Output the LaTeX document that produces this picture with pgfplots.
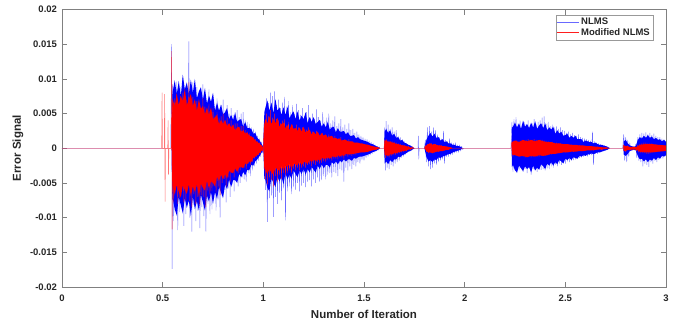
\documentclass[border=0pt]{standalone}
\usepackage{fontspec}
\setmainfont{Liberation Sans}
\usepackage{pgfplots}
\pgfplotsset{compat=1.18}
\definecolor{nlms}{RGB}{0,0,255}
\definecolor{nlmsline}{RGB}{105,105,255}
\definecolor{mnlms}{RGB}{255,0,0}
\definecolor{mnlmsline}{RGB}{255,30,30}
\definecolor{txt}{RGB}{38,38,38}
\begin{document}
\begin{tikzpicture}
\path[use as bounding box] (-62pt,-37pt) rectangle (616pt,287pt);
\begin{axis}[
  scale only axis, width=604pt, height=277.5pt,
  xmin=0, xmax=3, ymin=-0.02, ymax=0.02,
  scaled x ticks=false, scaled y ticks=false,
  xtick={0,0.5,1,1.5,2,2.5,3},
  xticklabels={0,0.5,1,1.5,2,2.5,3},
  ytick={-0.02,-0.015,-0.01,-0.005,0,0.005,0.01,0.015,0.02},
  yticklabels={-0.02,-0.015,-0.01,-0.005,0,0.005,0.01,0.015,0.02},
  tick align=inside, major tick length=5pt,
  axis line style={black!50, line width=0.5pt},
  every tick/.style={black!50, line width=0.5pt},
  ticklabel style={font=\bfseries\fontsize{9.5}{11}\selectfont, text=txt},
  xticklabel style={yshift=-4pt},
  yticklabel style={xshift=-1.5pt},
  xlabel={Number of Iteration},
  ylabel={Error Signal},
  label style={font=\bfseries\fontsize{11.5}{13}\selectfont, text=txt},
  xlabel style={at={(axis description cs:0.5,-0.0991)}, anchor=center},
  ylabel style={at={(axis description cs:-0.0728,0.5)}, anchor=center},
  legend style={at={(rel axis cs:0.9785,0.980)}, anchor=north east,
    font=\bfseries\fontsize{9.5}{11}\selectfont, text=txt, draw=black!40,
    inner sep=1pt, row sep=-2pt, cells={anchor=west}},
  legend image code/.code={\draw[#1, line width=0.4pt] (0pt,0pt) -- (22pt,0pt);},
  clip=true,
]
% ================= NLMS: error samples =================
\addplot[nlmsline, line width=0.4pt, line join=bevel] coordinates {
(0,0) (0.54,0)
(0.545,0.0150) (0.547,-0.0174) (0.550,0.0092) (0.555,-0.0105) (0.560,0.0085) (0.565,-0.0080)
(0.570,0.0096) (0.575,-0.0118) (0.580,0.0070) (0.585,-0.0092) (0.590,0.0088) (0.595,-0.0060)
(0.600,0.0102) (0.605,-0.0112) (0.610,0.0078) (0.615,-0.0095) (0.620,0.0090) (0.625,-0.0070)
(0.630,0.0154) (0.635,-0.0100) (0.640,0.0086) (0.645,-0.0120) (0.650,0.0095) (0.655,-0.0082)
(0.660,0.0072) (0.665,-0.0105) (0.670,0.0088) (0.675,-0.0090) (0.680,0.0080) (0.685,-0.0115)
(0.690,0.0065) (0.695,-0.0085) (0.700,0.0092) (0.705,-0.0098) (0.710,0.0075) (0.715,-0.0120)
(0.720,0.0070) (0.725,-0.0080) (0.730,0.0085) (0.735,-0.0095) (0.740,0.0068) (0.745,-0.0088)
(0.750,0.0078) (0.755,-0.0072) (0.760,0.0060) (0.765,-0.0090) (0.770,0.0072) (0.775,-0.0075)
(0.780,0.0058) (0.785,-0.0100) (0.790,0.0062) (0.795,-0.0068) (0.800,0.0070) (0.805,-0.0060)
(0.810,0.0055) (0.815,-0.0078) (0.820,0.0062) (0.825,-0.0058) (0.830,0.0050) (0.835,-0.0070)
(0.840,0.0058) (0.845,-0.0052) (0.850,0.0048) (0.855,-0.0062) (0.860,0.0052) (0.865,-0.0048)
(0.870,0.0055) (0.875,-0.0055) (0.880,0.0045) (0.885,-0.0050) (0.890,0.0050) (0.895,-0.0042)
(0.900,0.0052) (0.905,-0.0045) (0.910,0.0040) (0.915,-0.0048) (0.920,0.0038) (0.925,-0.0036)
(0.930,0.0035) (0.935,-0.0040) (0.940,0.0030) (0.945,-0.0032) (0.950,0.0028) (0.955,-0.0026)
(0.960,0.0024) (0.965,-0.0022) (0.970,0.0018) (0.975,-0.0018) (0.980,0.0014) (0.985,-0.0012)
(0.990,0.0009) (0.995,-0.0007) (1.000,0.0003)
(1.005,0.0045) (1.010,-0.0060) (1.015,0.0072) (1.020,-0.0106) (1.025,0.0065) (1.030,-0.0072)
(1.035,0.0080) (1.040,-0.0068) (1.045,0.0075) (1.050,-0.0099) (1.055,0.0082) (1.060,-0.0070)
(1.065,0.0062) (1.070,-0.0080) (1.075,0.0070) (1.080,-0.0064) (1.085,0.0058) (1.090,-0.0075)
(1.095,0.0066) (1.100,-0.0058) (1.105,0.0074) (1.110,-0.0104) (1.115,0.0060) (1.120,-0.0062)
(1.125,0.0068) (1.130,-0.0055) (1.135,0.0052) (1.140,-0.0066) (1.145,0.0062) (1.150,-0.0056)
(1.155,0.0050) (1.160,-0.0060) (1.165,0.0064) (1.170,-0.0050) (1.175,0.0055) (1.180,-0.0062)
(1.185,0.0048) (1.190,-0.0054) (1.195,0.0058) (1.200,-0.0050) (1.205,0.0046) (1.210,-0.0056)
(1.215,0.0052) (1.220,-0.0048) (1.225,0.0062) (1.230,-0.0046) (1.235,0.0044) (1.240,-0.0055)
(1.245,0.0050) (1.250,-0.0045) (1.255,0.0042) (1.260,-0.0050) (1.265,0.0056) (1.270,-0.0042)
(1.275,0.0045) (1.280,-0.0048) (1.285,0.0040) (1.290,-0.0046) (1.295,0.0052) (1.300,-0.0040)
(1.305,0.0038) (1.310,-0.0045) (1.315,0.0044) (1.320,-0.0038) (1.325,0.0050) (1.330,-0.0036)
(1.335,0.0036) (1.340,-0.0042) (1.345,0.0040) (1.350,-0.0034) (1.355,0.0046) (1.360,-0.0036)
(1.365,0.0032) (1.370,-0.0040) (1.375,0.0036) (1.380,-0.0030) (1.385,0.0042) (1.390,-0.0032)
(1.395,0.0030) (1.400,-0.0048) (1.405,0.0034) (1.410,-0.0028) (1.415,0.0028) (1.420,-0.0032)
(1.425,0.0036) (1.430,-0.0026) (1.435,0.0026) (1.440,-0.0030) (1.445,0.0028) (1.450,-0.0024)
(1.455,0.0022) (1.460,-0.0026) (1.465,0.0024) (1.470,-0.0020) (1.475,0.0020) (1.480,-0.0022)
(1.485,0.0018) (1.490,-0.0017) (1.495,0.0016) (1.500,-0.0018) (1.505,0.0014) (1.510,-0.0014)
(1.515,0.0013) (1.520,-0.0012) (1.525,0.0011) (1.530,-0.0010) (1.535,0.0009) (1.540,-0.0008)
(1.545,0.0007) (1.550,-0.0006) (1.555,0.0005) (1.560,-0.0004) (1.565,0.0003) (1.570,-0.0003)
(1.575,0.0002) (1.580,0) (1.600,0)
(1.603,0.0030) (1.606,-0.0032) (1.610,0.0039) (1.615,-0.0028) (1.620,0.0034) (1.625,-0.0030)
(1.630,0.0028) (1.635,-0.0024) (1.640,0.0030) (1.645,-0.0026) (1.650,0.0024) (1.655,-0.0022)
(1.660,0.0026) (1.665,-0.0020) (1.670,0.0018) (1.675,-0.0018) (1.680,0.0016) (1.685,-0.0014)
(1.690,0.0013) (1.695,-0.0012) (1.700,0.0010) (1.705,-0.0009) (1.710,0.0007) (1.715,-0.0006)
(1.720,0.0005) (1.725,-0.0004) (1.730,0.0003) (1.735,-0.0003) (1.740,0.0002) (1.745,-0.0001)
(1.750,0) (1.768,0) (1.770,0.0018) (1.772,-0.0016) (1.774,0) (1.800,0)
(1.805,0.0012) (1.810,-0.0020) (1.815,0.0030) (1.820,-0.0026) (1.825,0.0032) (1.830,-0.0030)
(1.835,0.0024) (1.840,-0.0028) (1.845,0.0030) (1.850,-0.0022) (1.855,0.0026) (1.860,-0.0024)
(1.865,0.0020) (1.870,-0.0020) (1.875,0.0016) (1.880,-0.0018) (1.885,0.0014) (1.890,-0.0016)
(1.895,0.0025) (1.900,-0.0022) (1.905,0.0012) (1.910,-0.0012) (1.915,0.0010) (1.920,-0.0012)
(1.925,0.0014) (1.930,-0.0010) (1.935,0.0008) (1.940,-0.0009) (1.945,0.0007) (1.950,-0.0007)
(1.955,0.0008) (1.960,-0.0006) (1.965,0.0005) (1.970,-0.0006) (1.975,0.0005) (1.980,-0.0004)
(1.985,0.0003) (1.990,-0.0002) (1.995,0) (2.230,0)
(2.235,0.0038) (2.240,-0.0034) (2.245,0.0042) (2.250,-0.0030) (2.255,0.0045) (2.260,-0.0036)
(2.265,0.0036) (2.270,-0.0032) (2.275,0.0040) (2.280,-0.0028) (2.285,0.0034) (2.290,-0.0034)
(2.295,0.0038) (2.300,-0.0030) (2.305,0.0035) (2.310,-0.0036) (2.315,0.0040) (2.320,-0.0029)
(2.325,0.0033) (2.330,-0.0038) (2.335,0.0036) (2.340,-0.0030) (2.345,0.0042) (2.350,-0.0032)
(2.355,0.0034) (2.360,-0.0034) (2.365,0.0038) (2.370,-0.0028) (2.375,0.0040) (2.380,-0.0031)
(2.385,0.0044) (2.390,-0.0030) (2.395,0.0046) (2.400,-0.0032) (2.405,0.0035) (2.410,-0.0029)
(2.415,0.0038) (2.420,-0.0030) (2.425,0.0032) (2.430,-0.0026) (2.435,0.0034) (2.440,-0.0028)
(2.445,0.0030) (2.450,-0.0024) (2.455,0.0032) (2.460,-0.0026) (2.465,0.0028) (2.470,-0.0022)
(2.475,0.0030) (2.480,-0.0024) (2.485,0.0026) (2.490,-0.0021) (2.495,0.0025) (2.500,-0.0022)
(2.505,0.0022) (2.510,-0.0019) (2.515,0.0024) (2.520,-0.0020) (2.525,0.0020) (2.530,-0.0018)
(2.535,0.0022) (2.540,-0.0017) (2.545,0.0019) (2.550,-0.0016) (2.555,0.0018) (2.560,-0.0015)
(2.565,0.0020) (2.570,-0.0014) (2.575,0.0016) (2.580,-0.0013) (2.585,0.0015) (2.590,-0.0012)
(2.595,0.0014) (2.600,-0.0011) (2.605,0.0013) (2.610,-0.0012) (2.615,0.0012) (2.620,-0.0010)
(2.625,0.0011) (2.630,-0.0010) (2.635,0.0024) (2.640,-0.0024) (2.645,0.0010) (2.650,-0.0008)
(2.655,0.0008) (2.660,-0.0008) (2.665,0.0007) (2.670,-0.0006) (2.675,0.0006) (2.680,-0.0005)
(2.685,0.0005) (2.690,-0.0004) (2.695,0.0004) (2.700,-0.0003) (2.705,0.0003) (2.710,-0.0002)
(2.715,0.0001) (2.720,0) (2.785,0)
(2.790,0.0020) (2.795,-0.0018) (2.800,0.0016) (2.805,-0.0020) (2.810,0.0012) (2.815,-0.0012)
(2.820,0.0008) (2.825,-0.0004) (2.830,0.0003) (2.835,-0.0003) (2.840,0.0003) (2.845,-0.0003)
(2.850,0.0006) (2.855,-0.0014) (2.860,0.0016) (2.865,-0.0018) (2.870,0.0020) (2.875,-0.0020)
(2.880,0.0022) (2.885,-0.0026) (2.890,0.0021) (2.895,-0.0022) (2.900,0.0023) (2.905,-0.0024)
(2.910,0.0020) (2.915,-0.0027) (2.920,0.0022) (2.925,-0.0020) (2.930,0.0019) (2.935,-0.0022)
(2.940,0.0021) (2.945,-0.0018) (2.950,0.0018) (2.955,-0.0020) (2.960,0.0016) (2.965,-0.0017)
(2.970,0.0016) (2.975,-0.0015) (2.980,0.0014) (2.985,-0.0015) (2.990,0.0013) (2.995,-0.0012)
(3.000,0.0010)
};
\addlegendentry{NLMS}
% ================= NLMS: dense body of each burst =================
\addplot[fill=nlms, draw=none, forget plot] coordinates {
(0.545,0) (0.548,0.0075)
(0.55,0.0082) (0.56,0.0098) (0.57,0.0078) (0.58,0.0097) (0.59,0.0075) (0.60,0.0106) (0.61,0.0085)
(0.62,0.0095) (0.63,0.0078) (0.64,0.0099) (0.65,0.0080) (0.66,0.0100) (0.67,0.0072) (0.68,0.0082)
(0.69,0.0088) (0.70,0.0070) (0.71,0.0087) (0.72,0.0064) (0.73,0.0076) (0.74,0.0067) (0.75,0.0080)
(0.76,0.0054) (0.77,0.0066) (0.78,0.0054) (0.79,0.0063) (0.80,0.0049) (0.81,0.0052) (0.82,0.0058)
(0.83,0.0042) (0.84,0.0048) (0.85,0.0041) (0.86,0.0051) (0.87,0.0038) (0.88,0.0041) (0.89,0.0042)
(0.90,0.0031) (0.91,0.0038) (0.92,0.0029) (0.93,0.0029) (0.94,0.0028) (0.95,0.0021) (0.96,0.0022)
(0.97,0.0015) (0.98,0.0012) (0.99,0.0007) (1.00,0.0002)
(1.00,-0.0002) (0.99,-0.0007) (0.98,-0.0012) (0.97,-0.0016) (0.96,-0.0019) (0.95,-0.0025)
(0.94,-0.0024) (0.93,-0.0032) (0.92,-0.0031) (0.91,-0.0039) (0.90,-0.0034) (0.89,-0.0042)
(0.88,-0.0037) (0.87,-0.0050) (0.86,-0.0046) (0.85,-0.0046) (0.84,-0.0056) (0.83,-0.0045)
(0.82,-0.0059) (0.81,-0.0052) (0.80,-0.0072) (0.79,-0.0064) (0.78,-0.0056) (0.77,-0.0073)
(0.76,-0.0063) (0.75,-0.0080) (0.74,-0.0063) (0.73,-0.0077) (0.72,-0.0068) (0.71,-0.0090)
(0.70,-0.0078) (0.69,-0.0067) (0.68,-0.0090) (0.67,-0.0076) (0.66,-0.0088) (0.65,-0.0070)
(0.64,-0.0098) (0.63,-0.0075) (0.62,-0.0086) (0.61,-0.0072) (0.60,-0.0094) (0.59,-0.0082)
(0.58,-0.0070) (0.57,-0.0097) (0.56,-0.0088) (0.55,-0.0072) (0.548,-0.0075) (0.545,0)
};
\addplot[fill=nlms, draw=none, forget plot] coordinates {
(1.0,0) (1.005,0.0052)
(1.01,0.0058) (1.02,0.0069) (1.03,0.0054) (1.04,0.0066) (1.05,0.0051) (1.06,0.0071) (1.07,0.0054)
(1.08,0.0059) (1.09,0.0048) (1.10,0.0059) (1.11,0.0048) (1.12,0.0060) (1.13,0.0043) (1.14,0.0049)
(1.15,0.0053) (1.16,0.0042) (1.17,0.0053) (1.18,0.0040) (1.19,0.0047) (1.20,0.0042) (1.21,0.0052)
(1.22,0.0036) (1.23,0.0045) (1.24,0.0038) (1.25,0.0045) (1.26,0.0035) (1.27,0.0038) (1.28,0.0041)
(1.29,0.0031) (1.30,0.0036) (1.31,0.0030) (1.32,0.0038) (1.33,0.0027) (1.34,0.0030) (1.35,0.0031)
(1.36,0.0023) (1.37,0.0029) (1.38,0.0024) (1.39,0.0024) (1.40,0.0025) (1.41,0.0020) (1.42,0.0023)
(1.43,0.0018) (1.44,0.0018) (1.45,0.0019) (1.46,0.0014) (1.47,0.0016) (1.48,0.0013) (1.49,0.0012)
(1.50,0.0011) (1.51,0.0010) (1.52,0.0009) (1.53,0.0007) (1.54,0.0006) (1.55,0.0005) (1.56,0.0003)
(1.57,0.0002) (1.58,0)
(1.57,-0.0002) (1.56,-0.0004) (1.55,-0.0005) (1.54,-0.0006) (1.53,-0.0008) (1.52,-0.0009)
(1.51,-0.0010) (1.50,-0.0011) (1.49,-0.0012) (1.48,-0.0012) (1.47,-0.0013) (1.46,-0.0015)
(1.45,-0.0014) (1.44,-0.0018) (1.43,-0.0016) (1.42,-0.0016) (1.41,-0.0019) (1.40,-0.0016)
(1.39,-0.0020) (1.38,-0.0018) (1.37,-0.0023) (1.36,-0.0019) (1.35,-0.0023) (1.34,-0.0020)
(1.33,-0.0028) (1.32,-0.0024) (1.31,-0.0024) (1.30,-0.0029) (1.29,-0.0023) (1.28,-0.0030)
(1.27,-0.0025) (1.26,-0.0035) (1.25,-0.0031) (1.24,-0.0027) (1.23,-0.0035) (1.22,-0.0030)
(1.21,-0.0038) (1.20,-0.0030) (1.19,-0.0037) (1.18,-0.0032) (1.17,-0.0042) (1.16,-0.0037)
(1.15,-0.0032) (1.14,-0.0044) (1.13,-0.0038) (1.12,-0.0045) (1.11,-0.0036) (1.10,-0.0052)
(1.09,-0.0041) (1.08,-0.0048) (1.07,-0.0041) (1.06,-0.0056) (1.05,-0.0050) (1.04,-0.0043)
(1.03,-0.0062) (1.02,-0.0057) (1.01,-0.0045) (1.005,-0.0044) (1.0,0)
};
\addplot[fill=nlms, draw=none, forget plot] coordinates {
(1.60,0) (1.603,0.0024) (1.61,0.0028) (1.62,0.0022) (1.63,0.0026) (1.64,0.0018) (1.65,0.0021)
(1.66,0.0015) (1.67,0.0016) (1.68,0.0011) (1.69,0.0012) (1.70,0.0008) (1.71,0.0007) (1.72,0.0005)
(1.73,0.0004) (1.74,0.0002) (1.75,0)
(1.74,-0.0002) (1.73,-0.0004) (1.72,-0.0005) (1.71,-0.0007) (1.70,-0.0009) (1.69,-0.0010)
(1.68,-0.0013) (1.67,-0.0012) (1.66,-0.0016) (1.65,-0.0016) (1.64,-0.0020) (1.63,-0.0017)
(1.62,-0.0023) (1.61,-0.0019) (1.603,-0.0022) (1.60,0)
};
\addplot[fill=nlms, draw=none, forget plot] coordinates {
(1.80,0) (1.81,0.0012) (1.82,0.0018) (1.83,0.0022) (1.84,0.0017) (1.85,0.0021) (1.86,0.0015)
(1.87,0.0016) (1.88,0.0011) (1.89,0.0013) (1.90,0.0009) (1.91,0.0010) (1.92,0.0007) (1.93,0.0007)
(1.94,0.0005) (1.95,0.0005) (1.96,0.0003) (1.97,0.0003) (1.98,0.0002) (1.99,0)
(1.98,-0.0002) (1.97,-0.0003) (1.96,-0.0004) (1.95,-0.0005) (1.94,-0.0006) (1.93,-0.0008)
(1.92,-0.0008) (1.91,-0.0010) (1.90,-0.0011) (1.89,-0.0012) (1.88,-0.0014) (1.87,-0.0013)
(1.86,-0.0017) (1.85,-0.0016) (1.84,-0.0020) (1.83,-0.0017) (1.82,-0.0019) (1.81,-0.0012) (1.80,0)
};
\addplot[fill=nlms, draw=none, forget plot] coordinates {
(2.233,0) (2.235,0.0030)
(2.24,0.0031) (2.25,0.0037) (2.26,0.0030) (2.27,0.0036) (2.28,0.0028) (2.29,0.0040) (2.30,0.0031)
(2.31,0.0035) (2.32,0.0029) (2.33,0.0037) (2.34,0.0030) (2.35,0.0039) (2.36,0.0028) (2.37,0.0033)
(2.38,0.0036) (2.39,0.0029) (2.40,0.0036) (2.41,0.0026) (2.42,0.0030) (2.43,0.0027) (2.44,0.0031)
(2.45,0.0021) (2.46,0.0026) (2.47,0.0021) (2.48,0.0024) (2.49,0.0018) (2.50,0.0019) (2.51,0.0021)
(2.52,0.0015) (2.53,0.0018) (2.54,0.0015) (2.55,0.0018) (2.56,0.0013) (2.57,0.0013) (2.58,0.0013)
(2.59,0.0009) (2.60,0.0011) (2.61,0.0010) (2.62,0.0009) (2.63,0.0009) (2.64,0.0007) (2.65,0.0008)
(2.66,0.0006) (2.67,0.0005) (2.68,0.0005) (2.69,0.0004) (2.70,0.0003) (2.71,0.0002) (2.72,0)
(2.71,-0.0002) (2.70,-0.0003) (2.69,-0.0004) (2.68,-0.0005) (2.67,-0.0006) (2.66,-0.0006)
(2.65,-0.0007) (2.64,-0.0009) (2.63,-0.0007) (2.62,-0.0009) (2.61,-0.0009) (2.60,-0.0011)
(2.59,-0.0010) (2.58,-0.0012) (2.57,-0.0011) (2.56,-0.0015) (2.55,-0.0014) (2.54,-0.0013)
(2.53,-0.0017) (2.52,-0.0014) (2.51,-0.0017) (2.50,-0.0015) (2.49,-0.0022) (2.48,-0.0019)
(2.47,-0.0017) (2.46,-0.0023) (2.45,-0.0020) (2.44,-0.0025) (2.43,-0.0020) (2.42,-0.0025)
(2.41,-0.0022) (2.40,-0.0030) (2.39,-0.0026) (2.38,-0.0023) (2.37,-0.0031) (2.36,-0.0028)
(2.35,-0.0032) (2.34,-0.0025) (2.33,-0.0035) (2.32,-0.0027) (2.31,-0.0030) (2.30,-0.0026)
(2.29,-0.0033) (2.28,-0.0029) (2.27,-0.0025) (2.26,-0.0035) (2.25,-0.0032) (2.24,-0.0024)
(2.235,-0.0027) (2.233,0)
};
\addplot[fill=nlms, draw=none, forget plot] coordinates {
(2.788,0) (2.79,0.0010) (2.80,0.0012) (2.81,0.0007) (2.82,0.0004) (2.83,0.0003) (2.84,0.0002)
(2.85,0.0003) (2.86,0.0012) (2.87,0.0016) (2.88,0.0014) (2.89,0.0018) (2.90,0.0015) (2.91,0.0019)
(2.92,0.0015) (2.93,0.0017) (2.94,0.0013) (2.95,0.0015) (2.96,0.0012) (2.97,0.0013) (2.98,0.0010)
(2.99,0.0012) (3.00,0.0009)
(3.00,-0.0010) (2.99,-0.0012) (2.98,-0.0011) (2.97,-0.0015) (2.96,-0.0013) (2.95,-0.0017)
(2.94,-0.0014) (2.93,-0.0018) (2.92,-0.0016) (2.91,-0.0020) (2.90,-0.0016) (2.89,-0.0019)
(2.88,-0.0015) (2.87,-0.0016) (2.86,-0.0011) (2.85,-0.0003) (2.84,-0.0002) (2.83,-0.0003)
(2.82,-0.0004) (2.81,-0.0008) (2.80,-0.0011) (2.79,-0.0009) (2.788,0)
};
% ================= Modified NLMS: error samples =================
\addplot[mnlmsline, line width=0.4pt, line join=bevel] coordinates {
(0,0) (0.543,0)
(0.545,0.0140) (0.547,-0.0117) (0.550,0.0070) (0.555,-0.0078) (0.560,0.0072) (0.565,-0.0060)
(0.570,0.0078) (0.575,-0.0080) (0.580,0.0058) (0.585,-0.0072) (0.590,0.0075) (0.595,-0.0050)
(0.600,0.0080) (0.605,-0.0078) (0.610,0.0062) (0.615,-0.0075) (0.620,0.0070) (0.625,-0.0058)
(0.630,0.0095) (0.635,-0.0076) (0.640,0.0072) (0.645,-0.0085) (0.650,0.0074) (0.655,-0.0066)
(0.660,0.0060) (0.665,-0.0080) (0.670,0.0068) (0.675,-0.0070) (0.680,0.0066) (0.685,-0.0082)
(0.690,0.0055) (0.695,-0.0068) (0.700,0.0072) (0.705,-0.0070) (0.710,0.0060) (0.715,-0.0085)
(0.720,0.0056) (0.725,-0.0062) (0.730,0.0064) (0.735,-0.0070) (0.740,0.0055) (0.745,-0.0062)
(0.750,0.0058) (0.755,-0.0055) (0.760,0.0048) (0.765,-0.0064) (0.770,0.0052) (0.775,-0.0056)
(0.780,0.0044) (0.785,-0.0068) (0.790,0.0046) (0.795,-0.0050) (0.800,0.0050) (0.805,-0.0044)
(0.810,0.0040) (0.815,-0.0055) (0.820,0.0044) (0.825,-0.0042) (0.830,0.0036) (0.835,-0.0048)
(0.840,0.0040) (0.845,-0.0036) (0.850,0.0034) (0.855,-0.0042) (0.860,0.0036) (0.865,-0.0032)
(0.870,0.0036) (0.875,-0.0036) (0.880,0.0030) (0.885,-0.0032) (0.890,0.0032) (0.895,-0.0028)
(0.900,0.0032) (0.905,-0.0028) (0.910,0.0026) (0.915,-0.0030) (0.920,0.0024) (0.925,-0.0022)
(0.930,0.0022) (0.935,-0.0024) (0.940,0.0018) (0.945,-0.0020) (0.950,0.0016) (0.955,-0.0015)
(0.960,0.0013) (0.965,-0.0012) (0.970,0.0010) (0.975,-0.0010) (0.980,0.0008) (0.985,-0.0007)
(0.990,0.0005) (0.995,-0.0004) (1.000,0.0002)
(1.005,0.0035) (1.010,-0.0045) (1.015,0.0050) (1.020,-0.0052) (1.025,0.0046) (1.030,-0.0042)
(1.035,0.0055) (1.040,-0.0046) (1.045,0.0044) (1.050,-0.0055) (1.055,0.0050) (1.060,-0.0040)
(1.065,0.0042) (1.070,-0.0048) (1.075,0.0040) (1.080,-0.0038) (1.085,0.0036) (1.090,-0.0044)
(1.095,0.0040) (1.100,-0.0036) (1.105,0.0042) (1.110,-0.0040) (1.115,0.0034) (1.120,-0.0036)
(1.125,0.0038) (1.130,-0.0032) (1.135,0.0030) (1.140,-0.0036) (1.145,0.0034) (1.150,-0.0030)
(1.155,0.0028) (1.160,-0.0032) (1.165,0.0034) (1.170,-0.0028) (1.175,0.0030) (1.180,-0.0032)
(1.185,0.0026) (1.190,-0.0028) (1.195,0.0030) (1.200,-0.0026) (1.205,0.0025) (1.210,-0.0028)
(1.215,0.0027) (1.220,-0.0024) (1.225,0.0030) (1.230,-0.0023) (1.235,0.0022) (1.240,-0.0026)
(1.245,0.0024) (1.250,-0.0022) (1.255,0.0021) (1.260,-0.0024) (1.265,0.0025) (1.270,-0.0020)
(1.275,0.0021) (1.280,-0.0022) (1.285,0.0019) (1.290,-0.0021) (1.295,0.0022) (1.300,-0.0019)
(1.305,0.0018) (1.310,-0.0020) (1.315,0.0019) (1.320,-0.0017) (1.325,0.0020) (1.330,-0.0016)
(1.335,0.0016) (1.340,-0.0018) (1.345,0.0017) (1.350,-0.0015) (1.355,0.0018) (1.360,-0.0015)
(1.365,0.0014) (1.370,-0.0016) (1.375,0.0015) (1.380,-0.0013) (1.385,0.0016) (1.390,-0.0013)
(1.395,0.0012) (1.400,-0.0015) (1.405,0.0013) (1.410,-0.0011) (1.415,0.0011) (1.420,-0.0012)
(1.425,0.0013) (1.430,-0.0010) (1.435,0.0010) (1.440,-0.0011) (1.445,0.0010) (1.450,-0.0009)
(1.455,0.0008) (1.460,-0.0009) (1.465,0.0008) (1.470,-0.0007) (1.475,0.0007) (1.480,-0.0007)
(1.485,0.0006) (1.490,-0.0006) (1.495,0.0005) (1.500,-0.0005) (1.510,0.0004) (1.520,-0.0004)
(1.530,0.0003) (1.540,-0.0003) (1.550,0.0002) (1.560,-0.0002) (1.570,0.0001) (1.580,0) (1.600,0)
(1.603,0.0012) (1.606,-0.0014) (1.610,0.0013) (1.615,-0.0012) (1.620,0.0011) (1.625,-0.0013)
(1.630,0.0010) (1.635,-0.0011) (1.640,0.0010) (1.645,-0.0009) (1.650,0.0009) (1.655,-0.0010)
(1.660,0.0008) (1.665,-0.0008) (1.670,0.0007) (1.675,-0.0007) (1.680,0.0006) (1.685,-0.0006)
(1.690,0.0005) (1.695,-0.0005) (1.700,0.0004) (1.710,-0.0004) (1.720,0.0003) (1.730,-0.0002)
(1.740,0.0002) (1.750,0) (1.800,0)
(1.805,0.0004) (1.810,-0.0005) (1.815,0.0006) (1.820,-0.0007) (1.825,0.0007) (1.830,-0.0006)
(1.835,0.0007) (1.840,-0.0007) (1.845,0.0006) (1.850,-0.0006) (1.855,0.0006) (1.860,-0.0005)
(1.865,0.0005) (1.870,-0.0005) (1.875,0.0004) (1.880,-0.0004) (1.885,0.0004) (1.890,-0.0004)
(1.895,0.0003) (1.900,-0.0003) (1.910,0.0002) (1.920,-0.0002) (1.930,0.0001) (1.940,0) (2.230,0)
(2.235,0.0010) (2.240,-0.0012) (2.245,0.0011) (2.250,-0.0010) (2.255,0.0012) (2.260,-0.0011)
(2.265,0.0010) (2.270,-0.0012) (2.275,0.0011) (2.280,-0.0010) (2.285,0.0012) (2.290,-0.0012)
(2.295,0.0011) (2.300,-0.0013) (2.305,0.0012) (2.310,-0.0012) (2.315,0.0013) (2.320,-0.0011)
(2.325,0.0012) (2.330,-0.0013) (2.335,0.0012) (2.340,-0.0012) (2.345,0.0013) (2.350,-0.0011)
(2.355,0.0012) (2.360,-0.0012) (2.365,0.0011) (2.370,-0.0012) (2.375,0.0012) (2.380,-0.0011)
(2.385,0.0012) (2.390,-0.0010) (2.395,0.0011) (2.400,-0.0011) (2.405,0.0010) (2.410,-0.0010)
(2.415,0.0010) (2.420,-0.0009) (2.425,0.0009) (2.430,-0.0009) (2.435,0.0009) (2.440,-0.0008)
(2.445,0.0008) (2.450,-0.0008) (2.455,0.0008) (2.460,-0.0007) (2.465,0.0007) (2.470,-0.0007)
(2.475,0.0007) (2.480,-0.0006) (2.490,0.0006) (2.500,-0.0006) (2.510,0.0005) (2.520,-0.0005)
(2.530,0.0005) (2.540,-0.0005) (2.550,0.0004) (2.560,-0.0004) (2.570,0.0004) (2.580,-0.0004)
(2.590,0.0003) (2.600,-0.0003) (2.620,0.0003) (2.640,-0.0003) (2.660,0.0002) (2.680,-0.0002)
(2.700,0.0001) (2.720,0) (2.785,0)
(2.790,0.0005) (2.800,-0.0005) (2.810,0.0004) (2.820,-0.0003) (2.830,0.0001) (2.850,0)
(2.855,-0.0004) (2.860,0.0005) (2.865,-0.0006) (2.870,0.0006) (2.875,-0.0007) (2.880,0.0007)
(2.885,-0.0007) (2.890,0.0008) (2.895,-0.0007) (2.900,0.0008) (2.905,-0.0008) (2.910,0.0007)
(2.915,-0.0008) (2.920,0.0007) (2.925,-0.0007) (2.930,0.0007) (2.935,-0.0006) (2.940,0.0006)
(2.945,-0.0006) (2.950,0.0006) (2.955,-0.0005) (2.960,0.0005) (2.965,-0.0005) (2.970,0.0005)
(2.975,-0.0004) (2.980,0.0004) (2.985,-0.0004) (2.990,0.0004) (2.995,-0.0003) (3.000,0.0003)
};
\addlegendentry{Modified NLMS}
% ================= Modified NLMS: dense body of each burst =================
\addplot[fill=mnlms, draw=none, forget plot] coordinates {
(0.545,0) (0.548,0.0060)
(0.55,0.0070) (0.56,0.0061) (0.57,0.0079) (0.58,0.0062) (0.59,0.0075) (0.60,0.0068) (0.61,0.0086)
(0.62,0.0062) (0.63,0.0071) (0.64,0.0078) (0.65,0.0061) (0.66,0.0071) (0.67,0.0054) (0.68,0.0071)
(0.69,0.0057) (0.70,0.0061) (0.71,0.0049) (0.72,0.0059) (0.73,0.0048) (0.74,0.0059) (0.75,0.0042)
(0.76,0.0045) (0.77,0.0048) (0.78,0.0035) (0.79,0.0041) (0.80,0.0035) (0.81,0.0041) (0.82,0.0032)
(0.83,0.0036) (0.84,0.0030) (0.85,0.0034) (0.86,0.0026) (0.87,0.0030) (0.88,0.0031) (0.89,0.0023)
(0.90,0.0026) (0.91,0.0021) (0.92,0.0023) (0.93,0.0018) (0.94,0.0017) (0.95,0.0015) (0.96,0.0011)
(0.97,0.0009) (0.98,0.0007) (0.99,0.0004) (1.00,0.0001)
(1.00,-0.0001) (0.99,-0.0004) (0.98,-0.0007) (0.97,-0.0010) (0.96,-0.0012) (0.95,-0.0014)
(0.94,-0.0020) (0.93,-0.0019) (0.92,-0.0023) (0.91,-0.0022) (0.90,-0.0029) (0.89,-0.0027)
(0.88,-0.0028) (0.87,-0.0034) (0.86,-0.0029) (0.85,-0.0036) (0.84,-0.0035) (0.83,-0.0032)
(0.82,-0.0044) (0.81,-0.0037) (0.80,-0.0045) (0.79,-0.0038) (0.78,-0.0047) (0.77,-0.0041)
(0.76,-0.0055) (0.75,-0.0050) (0.74,-0.0048) (0.73,-0.0058) (0.72,-0.0047) (0.71,-0.0061)
(0.70,-0.0057) (0.69,-0.0051) (0.68,-0.0070) (0.67,-0.0052) (0.66,-0.0063) (0.65,-0.0055)
(0.64,-0.0069) (0.63,-0.0052) (0.62,-0.0066) (0.61,-0.0060) (0.60,-0.0054) (0.59,-0.0071)
(0.58,-0.0063) (0.57,-0.0053) (0.56,-0.0067) (0.55,-0.0055) (0.548,-0.0055) (0.545,0)
};
\addplot[fill=mnlms, draw=none, forget plot] coordinates {
(1.0,0) (1.005,0.0035)
(1.01,0.0042) (1.02,0.0036) (1.03,0.0046) (1.04,0.0035) (1.05,0.0042) (1.06,0.0036) (1.07,0.0044)
(1.08,0.0031) (1.09,0.0035) (1.10,0.0037) (1.11,0.0029) (1.12,0.0033) (1.13,0.0026) (1.14,0.0035)
(1.15,0.0028) (1.16,0.0029) (1.17,0.0025) (1.18,0.0030) (1.19,0.0024) (1.20,0.0031) (1.21,0.0023)
(1.22,0.0025) (1.23,0.0027) (1.24,0.0020) (1.25,0.0024) (1.26,0.0020) (1.27,0.0024) (1.28,0.0018)
(1.29,0.0022) (1.30,0.0018) (1.31,0.0020) (1.32,0.0015) (1.33,0.0017) (1.34,0.0018) (1.35,0.0014)
(1.36,0.0015) (1.37,0.0013) (1.38,0.0014) (1.39,0.0011) (1.40,0.0012) (1.41,0.0012) (1.42,0.0010)
(1.43,0.0010) (1.44,0.0010) (1.45,0.0008) (1.46,0.0008) (1.47,0.0008) (1.48,0.0007) (1.49,0.0007)
(1.50,0.0006) (1.52,0.0005) (1.54,0.0003) (1.56,0.0002) (1.58,0)
(1.56,-0.0002) (1.54,-0.0003) (1.52,-0.0005) (1.50,-0.0006) (1.49,-0.0006) (1.48,-0.0006)
(1.47,-0.0007) (1.46,-0.0007) (1.45,-0.0008) (1.44,-0.0008) (1.43,-0.0009) (1.42,-0.0009)
(1.41,-0.0008) (1.40,-0.0011) (1.39,-0.0010) (1.38,-0.0012) (1.37,-0.0010) (1.36,-0.0013)
(1.35,-0.0012) (1.34,-0.0012) (1.33,-0.0015) (1.32,-0.0013) (1.31,-0.0015) (1.30,-0.0015)
(1.29,-0.0014) (1.28,-0.0018) (1.27,-0.0016) (1.26,-0.0019) (1.25,-0.0016) (1.24,-0.0020)
(1.23,-0.0017) (1.22,-0.0023) (1.21,-0.0020) (1.20,-0.0020) (1.19,-0.0025) (1.18,-0.0019)
(1.17,-0.0025) (1.16,-0.0023) (1.15,-0.0022) (1.14,-0.0030) (1.13,-0.0022) (1.12,-0.0027)
(1.11,-0.0025) (1.10,-0.0032) (1.09,-0.0025) (1.08,-0.0033) (1.07,-0.0030) (1.06,-0.0028)
(1.05,-0.0038) (1.04,-0.0035) (1.03,-0.0030) (1.02,-0.0038) (1.01,-0.0031) (1.005,-0.0030) (1.0,0)
};
\addplot[fill=mnlms, draw=none, forget plot] coordinates {
(1.60,0) (1.603,0.0010) (1.61,0.0012) (1.62,0.0009) (1.63,0.0010) (1.64,0.0008) (1.65,0.0008)
(1.66,0.0006) (1.67,0.0006) (1.68,0.0005) (1.69,0.0004) (1.70,0.0004) (1.72,0.0002) (1.75,0)
(1.72,-0.0002) (1.70,-0.0004) (1.69,-0.0004) (1.68,-0.0005) (1.67,-0.0006) (1.66,-0.0007)
(1.65,-0.0007) (1.64,-0.0009) (1.63,-0.0009) (1.62,-0.0011) (1.61,-0.0010) (1.603,-0.0010) (1.60,0)
};
\addplot[fill=mnlms, draw=none, forget plot] coordinates {
(1.80,0) (1.81,0.0004) (1.82,0.0006) (1.83,0.0007) (1.84,0.0005) (1.85,0.0006) (1.86,0.0005)
(1.87,0.0004) (1.88,0.0004) (1.89,0.0003) (1.90,0.0003) (1.92,0.0002) (1.94,0)
(1.92,-0.0002) (1.90,-0.0003) (1.89,-0.0004) (1.88,-0.0004) (1.87,-0.0005) (1.86,-0.0005)
(1.85,-0.0006) (1.84,-0.0007) (1.83,-0.0006) (1.82,-0.0006) (1.81,-0.0004) (1.80,0)
};
\addplot[fill=mnlms, draw=none, forget plot] coordinates {
(2.233,0) (2.235,0.0009) (2.25,0.0011) (2.27,0.0009) (2.29,0.0012) (2.31,0.0010) (2.33,0.0012)
(2.35,0.0010) (2.37,0.0012) (2.39,0.0010) (2.41,0.0009) (2.43,0.0009) (2.45,0.0007) (2.47,0.0007)
(2.49,0.0006) (2.51,0.0006) (2.53,0.0005) (2.55,0.0005) (2.57,0.0004) (2.59,0.0004) (2.61,0.0003)
(2.63,0.0003) (2.66,0.0002) (2.70,0.0001) (2.72,0)
(2.70,-0.0001) (2.66,-0.0002) (2.63,-0.0003) (2.61,-0.0003) (2.59,-0.0004) (2.57,-0.0004)
(2.55,-0.0005) (2.53,-0.0005) (2.51,-0.0006) (2.49,-0.0006) (2.47,-0.0007) (2.45,-0.0008)
(2.43,-0.0008) (2.41,-0.0010) (2.39,-0.0011) (2.37,-0.0010) (2.35,-0.0012) (2.33,-0.0011)
(2.31,-0.0013) (2.29,-0.0011) (2.27,-0.0012) (2.25,-0.0010) (2.235,-0.0009) (2.233,0)
};
\addplot[fill=mnlms, draw=none, forget plot] coordinates {
(2.788,0) (2.79,0.0004) (2.82,0.0002) (2.855,0.0002) (2.87,0.0005) (2.90,0.0006) (2.93,0.0006)
(2.96,0.0005) (3.0,0.0004)
(3.0,-0.0004) (2.96,-0.0005) (2.93,-0.0006) (2.90,-0.0006) (2.87,-0.0005) (2.855,-0.0002)
(2.82,-0.0002) (2.79,-0.0004) (2.788,0)
};
\addplot[mnlms!55, line width=0.5pt, forget plot] coordinates {
(0.495,0) (0.497,0.0080) (0.499,0) (0.508,0) (0.510,0.0078) (0.512,-0.0077) (0.514,0)
(0.525,0) (0.527,0.0040) (0.529,-0.0038) (0.531,0) (0.543,0)
};
\node[anchor=east, font=\bfseries\fontsize{9.5}{11}\selectfont, text=txt] at (axis description cs:1.008,-0.107) {×10\textsuperscript{4}};
\end{axis}
\end{tikzpicture}
\end{document}
